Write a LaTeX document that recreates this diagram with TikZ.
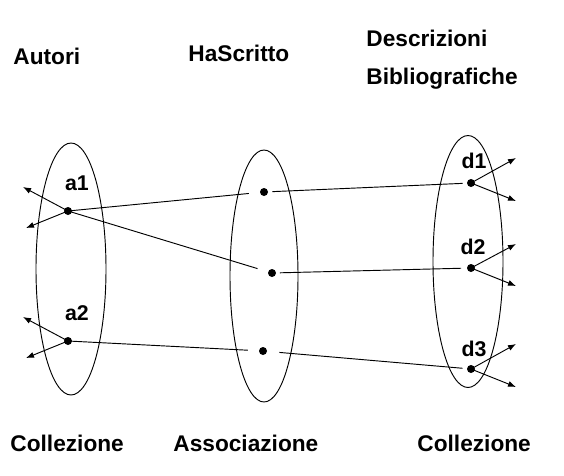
\documentclass[tikz,border=0pt]{standalone}
\usepackage{fontspec}
\setmainfont{Liberation Sans}
\usetikzlibrary{arrows.meta}
\tikzset{
  titolo/.style={font=\bfseries\fontsize{17}{20}\selectfont,anchor=west,inner sep=0pt},
  etichetta/.style={font=\bfseries\fontsize{16}{19}\selectfont,inner sep=0pt},
  punto/.style={circle,fill=black,inner sep=0pt,minimum size=6pt},
  freccia/.style={-{Latex[length=6pt,width=4.5pt]}},
}
\begin{document}
\begin{tikzpicture}[x=0.75pt,y=-0.75pt,line width=0.7pt]
 \useasboundingbox (0,0) rectangle (564,475);
 % titoli
 \node[titolo] (autori) at (13,56) {Autori};
 \node[titolo] (hascritto) at (188,53) {HaScritto};
 \node[titolo] (descr) at (366,38) {Descrizioni};
 \node[titolo] (biblio) at (366,79) {Bibliografiche};
 \node[titolo] (coll1) at (10,443) {Collezione};
 \node[titolo] (assoc) at (173,443) {Associazione};
 \node[titolo] (coll2) at (417,443) {Collezione};
 % insiemi
 \draw (71,269) ellipse [x radius=35,y radius=126];
 \draw (264,276) ellipse [x radius=34,y radius=126];
 \draw (468,261.5) ellipse [x radius=35,y radius=126];
 % elementi
 \node[punto] (a1) at (68,211) {};
 \node[punto] (a2) at (68,341) {};
 \node[punto] (m1) at (264,192) {};
 \node[punto] (m2) at (272,273) {};
 \node[punto] (m3) at (263,351) {};
 \node[punto] (d1) at (471,183) {};
 \node[punto] (d2) at (471,268) {};
 \node[punto] (d3) at (471,369) {};
 \node[etichetta] (la1) at (77,183) {a1};
 \node[etichetta] (la2) at (77,313) {a2};
 \node[etichetta] (ld1) at (474,161) {d1};
 \node[etichetta] (ld2) at (473,247) {d2};
 \node[etichetta] (ld3) at (474,349) {d3};
 % associazioni
 \draw[shorten >=8pt] (a1.center) -- (m1);
 \draw[shorten >=8pt] (a1.center) -- (m2);
 \draw[shorten >=8pt] (a2.center) -- (m3);
 \draw[shorten <=3pt,shorten >=3pt] (m1) -- (d1);
 \draw[shorten <=2.5pt,shorten >=4pt] (m2) -- (d2);
 \draw[shorten <=9pt,shorten >=3pt] (m3) -- (d3);
 % frecce uscenti
 \coordinate (ua1) at (23,187);
 \coordinate (va1) at (26,228);
 \coordinate (ua2) at (23,317);
 \coordinate (va2) at (26,358);
 \coordinate (ud1) at (516,158);
 \coordinate (vd1) at (516,201);
 \coordinate (ud2) at (516,244);
 \coordinate (vd2) at (516,286);
 \coordinate (ud3) at (516,344);
 \coordinate (vd3) at (516,387);
 \draw[freccia] (a1.center) -- (ua1);
 \draw[freccia] (a1.center) -- (va1);
 \draw[freccia] (a2.center) -- (ua2);
 \draw[freccia] (a2.center) -- (va2);
 \draw[freccia] (d1.center) -- (ud1);
 \draw[freccia] (d1.center) -- (vd1);
 \draw[freccia] (d2.center) -- (ud2);
 \draw[freccia] (d2.center) -- (vd2);
 \draw[freccia] (d3.center) -- (ud3);
 \draw[freccia] (d3.center) -- (vd3);
\end{tikzpicture}
\end{document}
